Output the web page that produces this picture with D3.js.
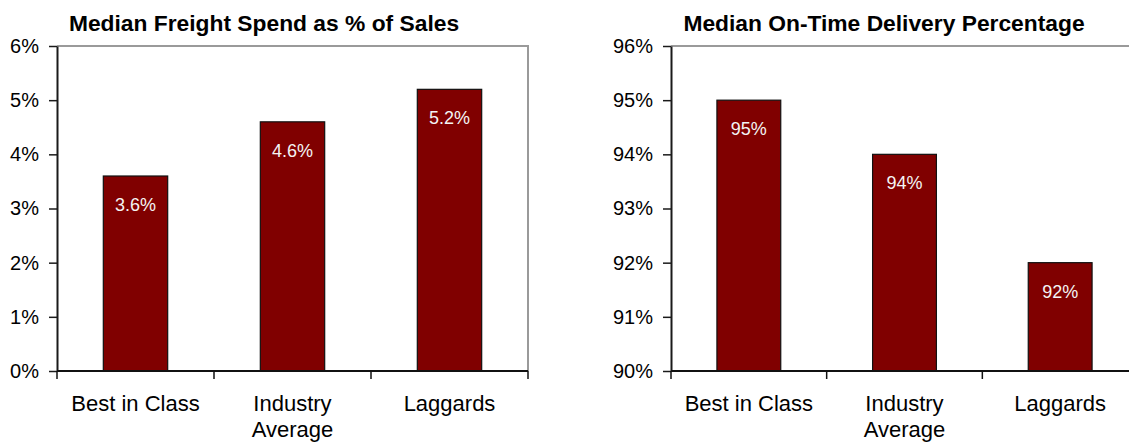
<!DOCTYPE html>
<html>
<head>
<meta charset="utf-8">
<script src="https://cdn.jsdelivr.net/npm/d3@7"></script>
<style>
  html, body { margin: 0; padding: 0; background: #fff; }
  svg { display: block; font-family: "Liberation Sans", Arial, sans-serif; }
</style>
</head>
<body>
<svg id="chart" width="1129" height="444"></svg>
<script>
// Categories shared by both panels ("\n" marks a line break in the axis label)
const categories = ["Best in Class", "Industry\nAverage", "Laggards"];

// Panel 1: median freight spend as % of sales
const freightTitle = "Median Freight Spend as % of Sales";
const freightValues = [3.6, 4.6, 5.2];
const freightTicks = [0, 1, 2, 3, 4, 5, 6];

// Panel 2: median on-time delivery percentage
const deliveryTitle = "Median On-Time Delivery Percentage";
const deliveryValues = [95, 94, 92];
const deliveryTicks = [90, 91, 92, 93, 94, 95, 96];

const svg = d3.select("#chart");
const BAR = "#800000";

function drawPanel(opts) {
  const { title, values, ticks, left, right, top, bottom, titleX, showLastTick } = opts;
  const g = svg.append("g");

  const x = d3.scaleBand()
    .domain(categories)
    .range([left, right])
    .paddingInner(0.59)
    .paddingOuter(0.295);

  const y = d3.scaleLinear()
    .domain([ticks[0], ticks[ticks.length - 1]])
    .range([bottom, top]);

  // plot frame (top and right edges)
  g.append("path")
    .attr("d", `M${left},${top}H${right}V${bottom}`)
    .attr("fill", "none")
    .attr("stroke", "#9a9a9a")
    .attr("stroke-width", 2);

  // bars
  g.selectAll("rect.bar")
    .data(values)
    .join("rect")
    .attr("class", "bar")
    .attr("x", (d, i) => x(categories[i]))
    .attr("width", x.bandwidth())
    .attr("y", d => y(d))
    .attr("height", d => y(ticks[0]) - y(d))
    .attr("fill", BAR)
    .attr("stroke", "#111")
    .attr("stroke-width", 1.2);

  // value labels inside bars
  g.selectAll("text.val")
    .data(values)
    .join("text")
    .attr("class", "val")
    .attr("x", (d, i) => x(categories[i]) + x.bandwidth() / 2)
    .attr("y", d => y(d) + 35)
    .attr("text-anchor", "middle")
    .attr("font-size", 18)
    .attr("fill", "#f4f4f4")
    .text(d => d + "%");

  // y axis
  const yAxis = d3.axisLeft(y)
    .tickValues(ticks)
    .tickFormat(d => d + "%")
    .tickSize(8)
    .tickSizeOuter(0)
    .tickPadding(10);
  const ya = g.append("g")
    .attr("transform", `translate(${left},0)`)
    .call(yAxis);
  ya.select(".domain").attr("stroke", "#1a1a1a").attr("stroke-width", 2);
  ya.selectAll(".tick line").attr("stroke", "#1a1a1a").attr("stroke-width", 1.5);
  ya.selectAll(".tick text")
    .attr("font-size", 20)
    .attr("font-family", "Liberation Sans, Arial, sans-serif")
    .attr("fill", "#000");

  // x axis line
  g.append("line")
    .attr("x1", left).attr("x2", right)
    .attr("y1", bottom).attr("y2", bottom)
    .attr("stroke", "#111")
    .attr("stroke-width", 2);

  // x tick marks at category boundaries
  const bounds = d3.range(categories.length + (showLastTick ? 1 : 0))
    .map(i => x.range()[0] + i * x.step());
  g.selectAll("line.xt")
    .data(bounds)
    .join("line")
    .attr("class", "xt")
    .attr("x1", d => d).attr("x2", d => d)
    .attr("y1", bottom).attr("y2", bottom + 8)
    .attr("stroke", "#111")
    .attr("stroke-width", 1.5);

  // category labels
  const labels = g.selectAll("text.cat")
    .data(categories)
    .join("text")
    .attr("class", "cat")
    .attr("text-anchor", "middle")
    .attr("font-size", 22)
    .attr("fill", "#000");
  labels.each(function (d) {
    const cx = x(d) + x.bandwidth() / 2;
    d3.select(this).selectAll("tspan")
      .data(d.split("\n"))
      .join("tspan")
      .attr("x", cx)
      .attr("y", (s, j) => bottom + 40 + j * 26)
      .text(s => s);
  });

  // title
  g.append("text")
    .attr("x", titleX)
    .attr("y", 31)
    .attr("text-anchor", "middle")
    .attr("font-size", 22.8)
    .attr("font-weight", "bold")
    .attr("fill", "#000")
    .text(title);
}

drawPanel({
  title: freightTitle, values: freightValues, ticks: freightTicks,
  left: 57, right: 528, top: 46, bottom: 371, titleX: 264, showLastTick: true
});

drawPanel({
  title: deliveryTitle, values: deliveryValues, ticks: deliveryTicks,
  left: 671, right: 1138, top: 46, bottom: 371, titleX: 884, showLastTick: false
});
</script>
</body>
</html>
